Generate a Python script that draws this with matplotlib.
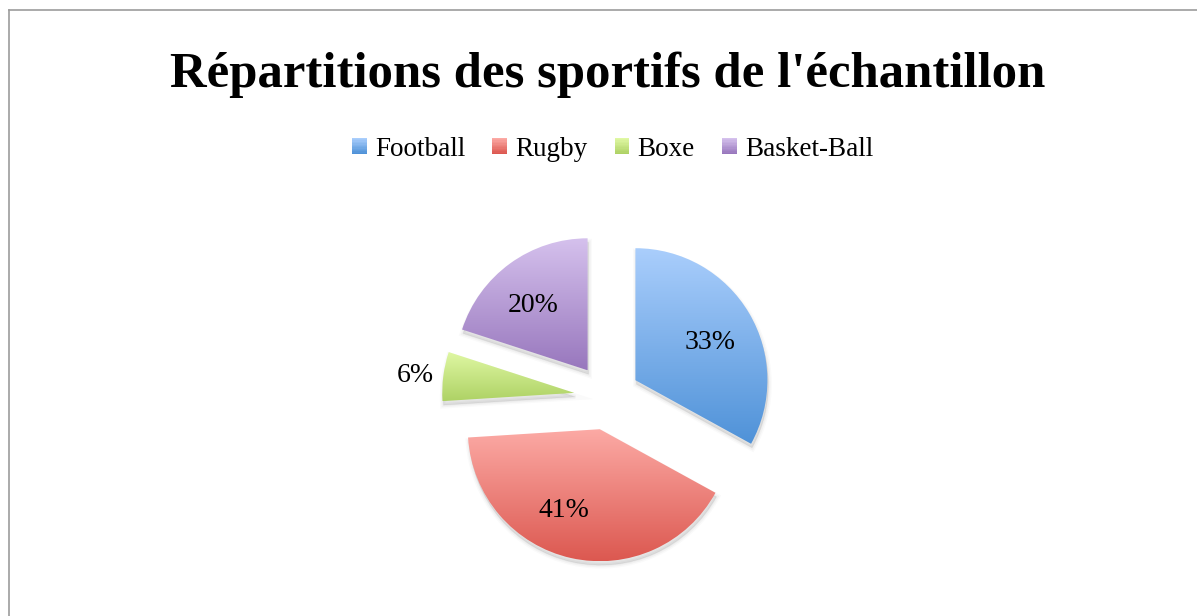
import matplotlib
matplotlib.use("Agg")
import matplotlib.pyplot as plt
import numpy as np
from matplotlib.colors import LinearSegmentedColormap
from matplotlib.legend_handler import HandlerBase
from matplotlib.lines import Line2D
from matplotlib.patches import Patch, PathPatch, Rectangle
from matplotlib.transforms import Affine2D

sports = ["Football", "Rugby", "Boxe", "Basket-Ball"]
shares = [33, 41, 6, 20]
top_colors = ["#aacefc", "#fcaaa5", "#e0f8a4", "#d5c1ed"]
bottom_colors = ["#4f92d8", "#dc5850", "#aed265", "#9877bd"]

title = "Répartitions des sportifs de l'échantillon"
serif = ["Liberation Serif", "DejaVu Serif"]

W, H = 1197, 616
fig = plt.figure(figsize=(W / 100, H / 100), dpi=100)
ax = fig.add_axes([0, 0, 1, 1])

cx, cy, r = 607, H - 397, 132
# explode is an absolute offset (data units = pixels here)
wedges, texts, autotexts = ax.pie(
    shares,
    explode=[33] * len(shares),
    startangle=90,
    counterclock=False,
    radius=r,
    center=(cx, cy),
    autopct="%1.0f%%",
    pctdistance=0.65,
    textprops={"fontsize": 20, "family": serif, "color": "black"},
)

for w, c_top, c_bot in zip(wedges, top_colors, bottom_colors):
    path = w.get_path()
    x0, y0, x1, y1 = path.get_extents().extents
    # soft shadow, mostly below the wedge
    shadow_path = Affine2D().translate(1, -4).transform_path(path)
    for lw, a in [(5, 0.02), (3, 0.03), (1, 0.04)]:
        ax.add_patch(PathPatch(shadow_path, facecolor=(0, 0, 0, a),
                               edgecolor=(0, 0, 0, a), lw=lw, zorder=0.5))
    w.set_facecolor("none")
    w.set_edgecolor("none")
    cmap = LinearSegmentedColormap.from_list("g", [c_bot, c_top])
    grad = np.linspace(0, 1, 256).reshape(-1, 1)
    im = ax.imshow(grad, extent=[x0, x1, y0, y1], origin="lower",
                   cmap=cmap, aspect="auto", zorder=1)
    im.set_clip_path(w)

# label placement like the original (boxe label sits outside)
label_dist = [0.64, 0.65, 1.21, 0.66]
label_turn = [-2, -12, 0, 3]
for w, t, d, turn in zip(wedges, autotexts, label_dist, label_turn):
    ang = np.deg2rad((w.theta1 + w.theta2) / 2 + turn)
    wx, wy = w.center
    t.set_position((wx + d * r * np.cos(ang), wy + d * r * np.sin(ang) - 3))
    t.set_zorder(3)

ax.set_xlim(0, W)
ax.set_ylim(0, H)
ax.set_aspect("auto")
ax.axis("off")

fig.text(607.5 / W, 1 - 75 / H, title, fontsize=36.5, fontweight="bold",
         family=serif, ha="center", va="center")


class GradientHandler(HandlerBase):
    def __init__(self, c_top, c_bot):
        super().__init__()
        self.cmap = LinearSegmentedColormap.from_list("g", [c_bot, c_top])

    def create_artists(self, legend, orig_handle, xdescent, ydescent,
                       width, height, fontsize, trans):
        n = 12
        arts = []
        for i in range(n):
            rect = Rectangle((-xdescent, -ydescent + i * height / n), width,
                             height / n + 0.05, facecolor=self.cmap(i / (n - 1)),
                             edgecolor="none", transform=trans)
            arts.append(rect)
        return arts


handles = [Patch(label=s) for s in sports]
handler_map = {h: GradientHandler(t, b) for h, t, b in zip(handles, top_colors, bottom_colors)}
fig.legend(handles=handles, loc="center", bbox_to_anchor=(612.5 / W, 1 - 149 / H),
           ncol=4, frameon=False, handler_map=handler_map,
           prop={"family": serif, "size": 19.5},
           handlelength=0.55, handleheight=0.55, handletextpad=0.3,
           columnspacing=1.0)

# chart area border (left and top only visible)
border = "#9c9c9c"
fig.add_artist(Line2D([8.5 / W, 8.5 / W], [0, 1 - 9.5 / H], color=border, lw=1.2,
                      transform=fig.transFigure))
fig.add_artist(Line2D([8.5 / W, 1], [1 - 9.5 / H, 1 - 9.5 / H], color=border, lw=1.2,
                      transform=fig.transFigure))

fig.savefig("out.png", dpi=100)
